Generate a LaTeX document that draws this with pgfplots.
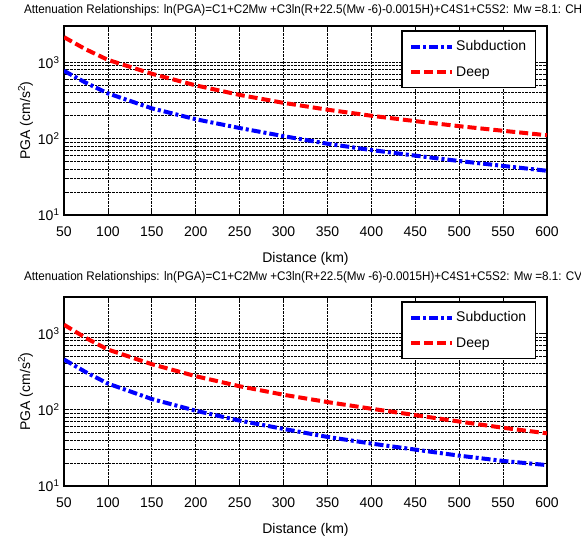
\documentclass[border=0pt]{standalone}
\usepackage{pgfplots}
\pgfplotsset{compat=1.18}
\usepackage{fontspec}
\setmainfont{Liberation Sans}
\newfontfamily\narrowfont[FakeStretch=0.8]{Liberation Sans}
\usepackage{graphicx}

\pgfplotstableread{
x y
50 2140
75 1480
100 1080
150 710
200 500
250 375
300 295
350 240
400 200
450 170
500 146
550 127
600 111
}\topdeep
\pgfplotstableread{
x y
50 776
75 540
100 393
150 250
200 180
250 138
300 108
350 86
400 71
450 60
500 51
550 44
600 38
}\topsub
\pgfplotstableread{
x y
50 1300
75 870
100 614
150 395
200 275
250 203
300 157
350 126
400 103
450 85
500 70
550 58
600 49
}\botdeep
\pgfplotstableread{
x y
50 455
75 310
100 220
150 138
200 97
250 72
300 56
350 44
400 36
450 30
500 25
550 21.3
600 18.8
}\botsub

\pgfplotsset{
  mystyle/.style={
    scale only axis, width=483pt, height=189pt,
    xmin=50, xmax=600, ymin=10, ymax=3000,
    xtick={50,100,...,600},
    ytick={10,100,1000},
    yticklabels={{10\textsuperscript{1}},{10\textsuperscript{2}},{10\textsuperscript{3}}},
    /pgf/number format/assume math mode=true,
    tick label style={font=\fontsize{14pt}{16pt}\selectfont},
    label style={font=\fontsize{14pt}{16pt}\selectfont},
    xticklabel style={yshift=-8pt},
    yticklabel style={xshift=-1pt},
    xmajorgrids, ymajorgrids, yminorgrids,
    major grid style={densely dotted, black, line width=0.8pt},
    minor grid style={densely dotted, black, line width=0.8pt},
    tick align=inside, major tick length=5pt, minor tick length=3pt,
    tick style={black, line width=0.8pt},
    axis line style={line width=1.5pt},
    xlabel={Distance (km)},
    ylabel={PGA (cm/s\textsuperscript{2})},
    xlabel style={yshift=-9pt},
    ylabel style={yshift=-2pt},
    legend style={at={(1,1)}, anchor=north east, xshift=-11pt, yshift=-4pt,
      draw=black, line width=1.5pt, font=\fontsize{14pt}{16pt}\selectfont,
      row sep=10pt, inner xsep=7pt, inner ysep=8pt,
      nodes={inner sep=2pt}},
    legend cell align=left,
  },
  subline/.style={blue, line width=4pt, dash pattern=on 9pt off 3pt on 3pt off 3pt},
  deepline/.style={red, line width=4pt, dash pattern=on 9pt off 4pt},
}
\pgfplotsset{legend image code/.code={\draw[#1] (0pt,0pt) -- (41pt,0pt);}}

\begin{document}
\begin{tikzpicture}
\useasboundingbox (0pt,-539pt) rectangle (581pt,0pt);

\node[anchor=west, inner sep=0pt] at (24pt,-10pt) {\resizebox{558pt}{\height}{\narrowfont\fontsize{12.5pt}{14pt}\selectfont Attenuation Relationships: ln(PGA)=C1+C2Mw +C3ln(R+22.5(Mw -6)-0.0015H)+C4S1+C5S2: Mw =8.1: CH}};

\begin{axis}[ymode=log, mystyle, at={(64pt,-215pt)}, anchor=south west]
\addplot[subline] table {\topsub};
\addlegendentry{Subduction}
\addplot[deepline] table {\topdeep};
\addlegendentry{Deep}
\end{axis}

\node[anchor=west, inner sep=0pt] at (24pt,-277pt) {\resizebox{558pt}{\height}{\narrowfont\fontsize{12.5pt}{14pt}\selectfont Attenuation Relationships: ln(PGA)=C1+C2Mw +C3ln(R+22.5(Mw -6)-0.0015H)+C4S1+C5S2: Mw =8.1: CV}};

\begin{axis}[ymode=log, mystyle, at={(64pt,-486pt)}, anchor=south west]
\addplot[subline] table {\botsub};
\addlegendentry{Subduction}
\addplot[deepline] table {\botdeep};
\addlegendentry{Deep}
\end{axis}
\end{tikzpicture}
\end{document}
